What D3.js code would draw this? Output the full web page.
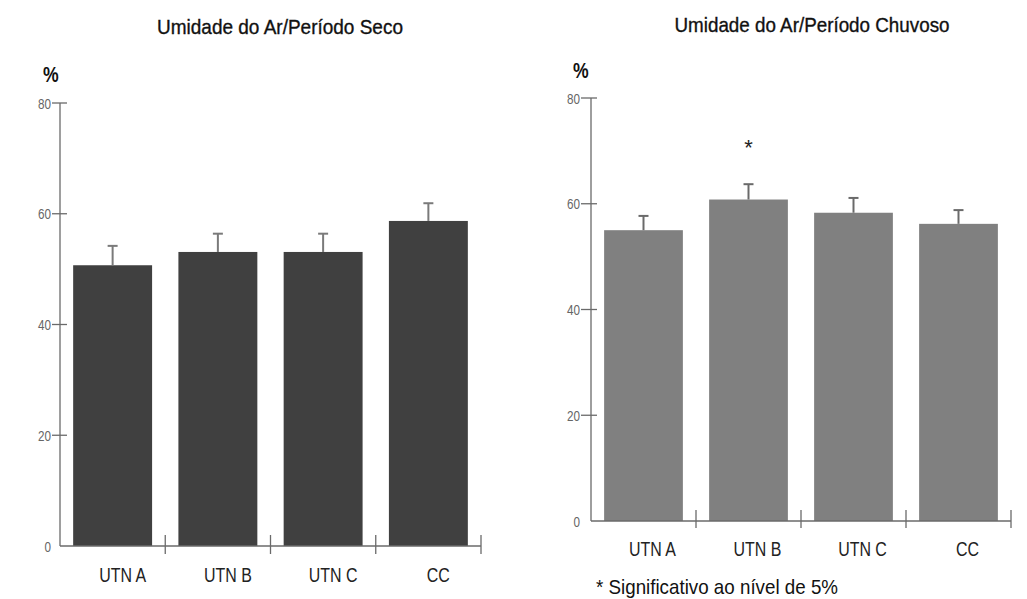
<!DOCTYPE html>
<html><head><meta charset="utf-8">
<script src="https://cdn.jsdelivr.net/npm/d3@7"></script>
<style>body{margin:0;background:#fff}svg{display:block}</style>
</head><body>
<script>
const categories = ["UTN A", "UTN B", "UTN C", "CC"];
const secoValues = [50.7, 53.1, 53.1, 58.7];
const secoErrors = [3.5, 3.3, 3.3, 3.2];
const chuvosoValues = [55.0, 60.8, 58.3, 56.2];
const chuvosoErrors = [2.7, 2.9, 2.8, 2.6];
const yTicks = [0, 20, 40, 60, 80];
const titles = ["Umidade do Ar/Período Seco", "Umidade do Ar/Período Chuvoso"];
const significant = [false, true, false, false];
const footnote = "* Significativo ao nível de 5%";

const W = 1027, H = 599;
const FONT = "'Liberation Sans',Arial,sans-serif";
const svg = d3.select("body").append("svg").attr("width", W).attr("height", H);

// condensed text helper (horizontal scale to mimic a narrow face)
function ctext(parent, x, y, str, size, sx, anchor, fill, weight) {
  const t = parent.append("text")
    .attr("transform", `translate(${x},${y}) scale(${sx},1)`)
    .attr("text-anchor", anchor || "start").attr("font-family", FONT)
    .attr("font-size", size).attr("fill", fill || "#111").text(str);
  if (weight) t.attr("font-weight", weight);
  return t;
}

function panel(cfg) {
  const x = d3.scaleBand().domain(categories).range([cfg.x0, cfg.x1]).paddingInner(0.25).paddingOuter(0.125);
  const y = d3.scaleLinear().domain([0, 80]).range([cfg.y0, cfg.y1]);
  const g = svg.append("g");
  const axisColor = "#6a6a6a";
  // title
  g.append("text").attr("x", cfg.titleX).attr("y", cfg.titleY)
    .attr("text-anchor", "middle").attr("font-family", FONT).attr("font-size", 21)
    .attr("fill", "#111").attr("stroke", "#111").attr("stroke-width", 0.35)
    .attr("textLength", cfg.titleW).attr("lengthAdjust", "spacingAndGlyphs")
    .text(cfg.title);
  // percent label
  ctext(g, cfg.pctX, cfg.pctY, "%", 22, 0.8, "start", "#111", "bold");
  // bars
  g.selectAll("rect.bar").data(categories).join("rect")
    .attr("x", d => x(d)).attr("width", x.bandwidth())
    .attr("y", (d, i) => y(cfg.values[i])).attr("height", (d, i) => y(0) - y(cfg.values[i]))
    .attr("fill", cfg.color);
  // error bars
  categories.forEach((c, i) => {
    const cx = x(c) + x.bandwidth() / 2;
    const top = y(cfg.values[i] + cfg.errors[i]);
    g.append("line").attr("x1", cx).attr("x2", cx).attr("y1", y(cfg.values[i])).attr("y2", top)
      .attr("stroke", cfg.errColor).attr("stroke-width", 2);
    g.append("line").attr("x1", cx - 5).attr("x2", cx + 5).attr("y1", top).attr("y2", top)
      .attr("stroke", cfg.errColor).attr("stroke-width", 2);
    if (cfg.sig && cfg.sig[i]) {
      g.append("text").attr("x", cx).attr("y", top - 29).attr("text-anchor", "middle")
        .attr("font-family", FONT).attr("font-size", 22).attr("fill", "#222").text("*");
    }
  });
  // y axis
  g.append("line").attr("x1", cfg.x0).attr("x2", cfg.x0).attr("y1", y(0)).attr("y2", y(80))
    .attr("stroke", axisColor).attr("stroke-width", 1.3);
  yTicks.forEach(t => {
    if (t > 0) g.append("line").attr("x1", cfg.x0 - cfg.tickL).attr("x2", cfg.x0 + cfg.tickR)
      .attr("y1", y(t)).attr("y2", y(t)).attr("stroke", axisColor).attr("stroke-width", 1.3);
    ctext(g, cfg.x0 - cfg.tickL - 1, y(t) + 5.5, t, 15, 0.78, "end", "#666");
  });
  // x axis
  g.append("line").attr("x1", cfg.x0).attr("x2", cfg.x1).attr("y1", y(0)).attr("y2", y(0))
    .attr("stroke", axisColor).attr("stroke-width", 1.3);
  categories.forEach(c => {
    const bx = x(c) + x.bandwidth() + x.step() * x.paddingInner() / 2;
    g.append("line").attr("x1", bx).attr("x2", bx).attr("y1", y(0) - cfg.xTickUp).attr("y2", y(0) + cfg.xTickDown)
      .attr("stroke", axisColor).attr("stroke-width", 1.3);
    ctext(g, x(c) + x.bandwidth() / 2 + cfg.labelDx, cfg.labelY, c, 21, 0.76, "middle", "#222");
  });
}

panel({ x0: 60, x1: 481, y0: 546, y1: 103, values: secoValues, errors: secoErrors,
  color: "#404040", errColor: "#7a7a7a", title: titles[0], titleX: 280, titleY: 34, titleW: 246,
  pctX: 43, pctY: 82, tickL: 8, tickR: 7, xTickUp: 11, xTickDown: 8, labelY: 582, labelDx: 10 });
panel({ x0: 591, x1: 1011, y0: 521, y1: 98, values: chuvosoValues, errors: chuvosoErrors,
  color: "#808080", errColor: "#6a6a6a", title: titles[1], titleX: 812, titleY: 32, titleW: 275,
  pctX: 573, pctY: 78, tickL: 10, tickR: 6, xTickUp: 11, xTickDown: 7, labelY: 556, labelDx: 9,
  sig: significant });

svg.append("text").attr("x", 596).attr("y", 594).attr("font-family", FONT).attr("font-size", 21)
  .attr("fill", "#111").attr("textLength", 242).attr("lengthAdjust", "spacingAndGlyphs").text(footnote);
</script>
</body></html>
